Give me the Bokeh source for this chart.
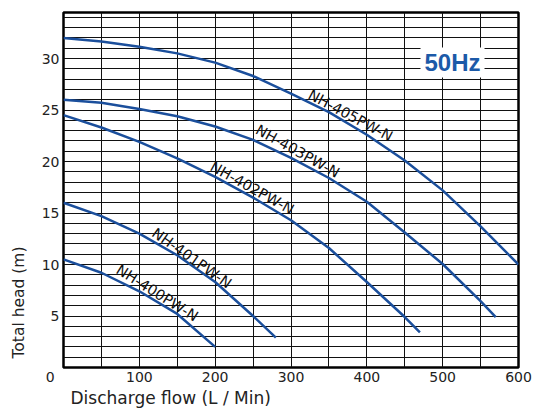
import math
from bokeh.plotting import figure
from bokeh.models import Range1d, FixedTicker, Label, BoxAnnotation, Title
from bokeh.embed import file_html
from bokeh.resources import INLINE

# ---- data ----
models = ["NH-400PW-N", "NH-401PW-N", "NH-402PW-N", "NH-403PW-N", "NH-405PW-N"]

flow_400 = [0, 50, 100, 150, 200]
head_400 = [10.5, 9.2, 7.4, 5.2, 2.0]

flow_401 = [0, 50, 100, 150, 200, 250, 280]
head_401 = [16.0, 14.7, 13.0, 10.9, 8.3, 5.0, 2.9]

flow_402 = [0, 50, 100, 150, 200, 250, 300, 350, 400, 450, 470]
head_402 = [24.5, 23.3, 21.9, 20.3, 18.5, 16.5, 14.3, 11.6, 8.3, 4.9, 3.4]

flow_403 = [0, 50, 100, 150, 200, 250, 300, 350, 400, 450, 500, 550, 570]
head_403 = [26.0, 25.7, 25.1, 24.4, 23.4, 22.1, 20.35, 18.4, 16.1, 13.1, 10.05, 6.45, 4.9]

flow_405 = [0, 50, 100, 150, 200, 250, 300, 350, 400, 450, 500, 550, 600]
head_405 = [32.0, 31.65, 31.15, 30.5, 29.6, 28.3, 26.6, 24.8, 22.6, 20.1, 17.2, 13.7, 10.0]

x_ticks = [0, 100, 200, 300, 400, 500, 600]
x_tick_labels = {0: "0" + "\u00a0" * 6}
y_ticks = [5, 10, 15, 20, 25, 30]
frequency = "50Hz"
x_title = "Discharge flow (L / Min)"
y_title = "Total head (m)"

# ---- figure ----
BLUE = "#1b4f9c"
TXT = "#222222"
p = figure(width=535, height=410, x_range=Range1d(0, 600), y_range=Range1d(0, 34.47),
           output_backend="svg", toolbar_location=None,
           min_border_left=63, min_border_right=17, min_border_top=12, min_border_bottom=43)
p.background_fill_color = "white"
p.border_fill_color = "white"
p.outline_line_color = "black"
p.outline_line_width = 2.5
p.outline_line_alpha = 1

p.xaxis.ticker = FixedTicker(ticks=x_ticks)
p.xaxis.major_label_overrides = x_tick_labels
p.yaxis.ticker = FixedTicker(ticks=y_ticks)
p.xgrid.ticker = FixedTicker(ticks=list(range(50, 600, 50)))
p.ygrid.ticker = FixedTicker(ticks=list(range(1, 35)))
for g in (p.xgrid, p.ygrid):
    g.grid_line_color = "#111111"
    g.grid_line_width = 1
    g.grid_line_alpha = 1

for ax in (p.xaxis, p.yaxis):
    ax.axis_line_color = None
    ax.major_tick_line_color = None
    ax.minor_tick_line_color = None
    ax.major_tick_out = 0
    ax.major_tick_in = 0
    ax.minor_tick_out = 0
    ax.minor_tick_in = 0
    ax.major_label_text_font = "DejaVu Sans"
    ax.major_label_text_font_size = "14px"
    ax.major_label_text_color = TXT
p.xaxis.major_label_standoff = 1
p.yaxis.major_label_standoff = 4

# axis titles as side titles (positioned with offsets)
p.add_layout(Title(text=y_title, align="left", offset=9, vertical_align="top", standoff=18,
                   text_font="DejaVu Sans", text_font_size="15.5px",
                   text_font_style="normal", text_color=TXT), "left")
p.add_layout(Title(text=x_title, align="left", offset=7, vertical_align="top", standoff=0,
                   text_font="DejaVu Sans", text_font_size="17px",
                   text_font_style="normal", text_color=TXT), "below")

# curves
for fx, hy in [(flow_400, head_400), (flow_401, head_401), (flow_402, head_402),
               (flow_403, head_403), (flow_405, head_405)]:
    p.line(fx, hy, line_color=BLUE, line_width=2.5, line_join="round")

# curve labels (layout positions)
label_pos = [(123.6, 7.23, 32), (169.2, 10.63, 35), (248.8, 17.43, 29),
             (308.8, 21.0, 29), (378.5, 24.47, 28)]
for name, (lx, ly, ang) in zip(models, label_pos):
    p.add_layout(Label(x=lx, y=ly, text=name, angle=-math.radians(ang),
                       text_align="center", text_baseline="middle",
                       text_font="DejaVu Sans", text_font_size="14.5px",
                       text_color="#111111"))

# 50Hz box
p.add_layout(BoxAnnotation(left=470.8, right=555.2, bottom=28.16, top=31.07,
                           fill_color="white", fill_alpha=1, line_alpha=0))
p.add_layout(Label(x=513, y=29.6, text=frequency, text_align="center", text_baseline="middle",
                   text_font="Liberation Sans", text_font_style="bold",
                   text_font_size="24px", text_color="#1c5aa8"))

open("out.html", "w").write(file_html(p, INLINE))
